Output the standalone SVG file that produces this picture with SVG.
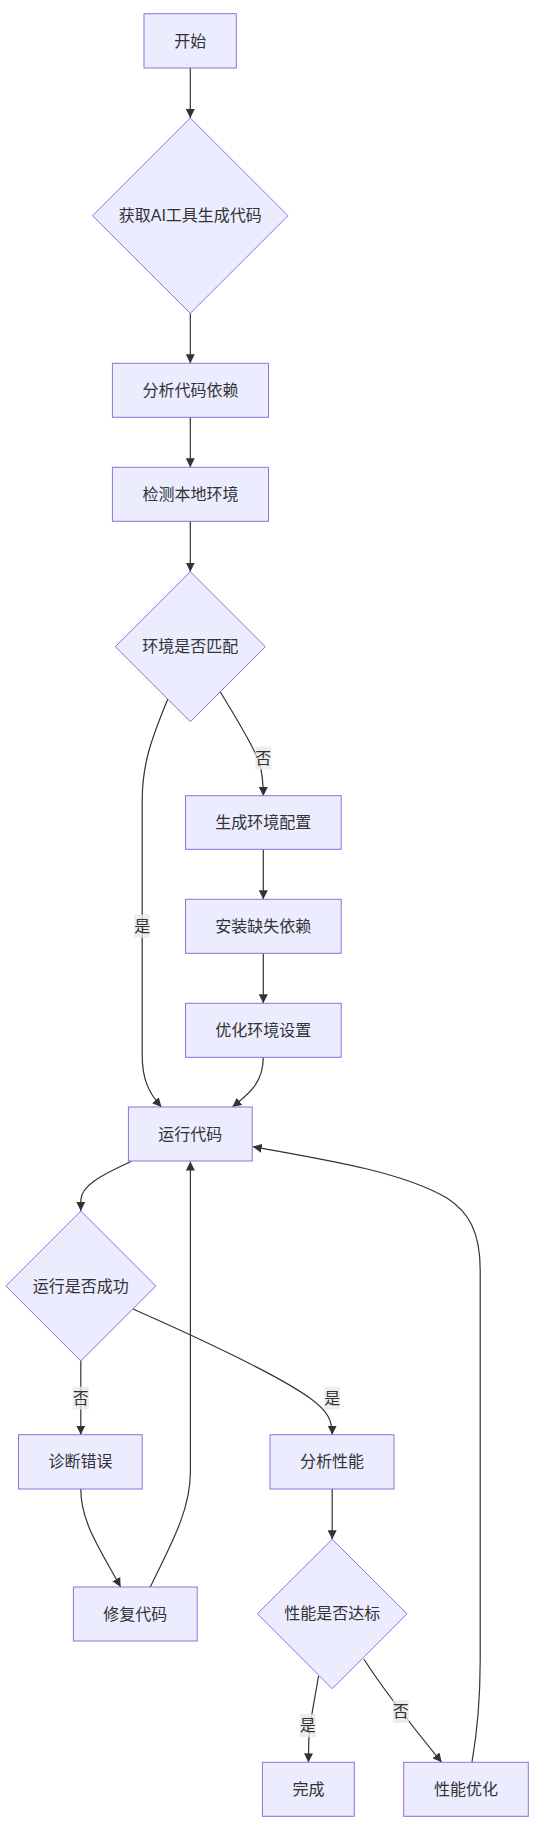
<svg xmlns="http://www.w3.org/2000/svg" width="556" height="1826" viewBox="0 0 556 1826">
<style>
.n{fill:#ECECFF;stroke:#9370DB;stroke-width:1px}
.t{font-family:"Liberation Sans","Noto Sans CJK SC",sans-serif;font-size:16px;fill:#333;text-anchor:middle;dominant-baseline:central}
.e{fill:none;stroke:#333;stroke-width:1.2px;marker-end:url(#arr)}
.lb{fill:rgba(232,232,232,0.8);stroke:none}
</style>
<defs>
<marker id="arr" viewBox="0 0 10 10" refX="10" refY="5" markerUnits="userSpaceOnUse" markerWidth="9" markerHeight="9" orient="auto">
<path d="M0,0 L10,5 L0,10 z" fill="#333"/>
</marker>
</defs>
<rect width="556" height="1826" fill="#fff"/>
<g id="edges">
<path class="e" d="M190.3,68 L190.3,118"/>
<path class="e" d="M190.3,313.3 L190.3,363.3"/>
<path class="e" d="M190.3,417.3 L190.3,467.3"/>
<path class="e" d="M190.3,521.3 L190.3,571.7"/>
<path class="e" d="M167.8,699 C150.9,740 142.2,765 142.2,800 L142.2,1055 C142.2,1080 149,1093 161.4,1107"/>
<path class="e" d="M220.3,692 C236.3,718 252.2,744 259.2,762 C262.2,772 263.3,782 263.3,796"/>
<path class="e" d="M263.3,849.3 L263.3,899.3"/>
<path class="e" d="M263.3,953.3 L263.3,1003.3"/>
<path class="e" d="M263.3,1057.3 C263.3,1082 250.2,1093 232.4,1107"/>
<path class="e" d="M131.1,1161.5 C99.3,1176 81.4,1186 80.8,1200 L80.8,1211"/>
<path class="e" d="M80.8,1360.7 L80.8,1434.7"/>
<path class="e" d="M133,1309 C198.6,1338 273,1372 309.8,1398 C327.7,1411 332.2,1420 332.2,1434.7"/>
<path class="e" d="M80.8,1489 C80.8,1522 99.3,1548 120.6,1587"/>
<path class="e" d="M150.3,1587 C168.8,1548 190.4,1512 190.4,1472 L190.4,1161.5"/>
<path class="e" d="M332.2,1489 L332.2,1539.3"/>
<path class="e" d="M318.5,1676 C314.8,1700 309.8,1720 308.8,1740 L308.4,1762.3"/>
<path class="e" d="M363.8,1659 C382.3,1688 407.1,1720 441.7,1762.3"/>
<path class="e" d="M472,1762 C477.6,1730 480.2,1700 480.2,1660 L480.2,1270 C480.2,1232 468.7,1212 446.9,1198 C402.2,1172 327.7,1160 252.8,1146.7"/>
<rect class="lb" x="134.2" y="914.5" width="16" height="23"/>
<text class="t" x="142.2" y="926">是</text>
<rect class="lb" x="255.3" y="746.5" width="16" height="23"/>
<text class="t" x="263.3" y="758">否</text>
<rect class="lb" x="72.8" y="1386.5" width="16" height="23"/>
<text class="t" x="80.8" y="1398">否</text>
<rect class="lb" x="324.2" y="1386.5" width="16" height="23"/>
<text class="t" x="332.2" y="1398">是</text>
<rect class="lb" x="299.8" y="1714" width="16" height="23"/>
<text class="t" x="307.8" y="1725.5">是</text>
<rect class="lb" x="392.8" y="1700" width="16" height="23"/>
<text class="t" x="400.8" y="1711.5">否</text>
</g>
<g id="start"><rect class="n" x="144" y="13.7" width="92.3" height="54.3"/><text class="t" x="190.2" y="41">开始</text></g>
<g id="getcode"><polygon class="n" points="190.3,118 288,215.7 190.3,313.3 92.6,215.7"/><text class="t" x="190.3" y="215.7">获取AI工具生成代码</text></g>
<g id="analyzedeps"><rect class="n" x="112.4" y="363.3" width="156.1" height="54"/><text class="t" x="190.4" y="390.3">分析代码依赖</text></g>
<g id="detectenv"><rect class="n" x="112.4" y="467.3" width="156.1" height="54"/><text class="t" x="190.4" y="494.3">检测本地环境</text></g>
<g id="envmatch"><polygon class="n" points="190.3,571.7 265.3,646.7 190.3,721.7 115.3,646.7"/><text class="t" x="190.3" y="646.7">环境是否匹配</text></g>
<g id="genenv"><rect class="n" x="185.5" y="795.7" width="155.7" height="53.6"/><text class="t" x="263.3" y="822.5">生成环境配置</text></g>
<g id="installdeps"><rect class="n" x="185.5" y="899.3" width="155.7" height="54"/><text class="t" x="263.3" y="926.3">安装缺失依赖</text></g>
<g id="optenv"><rect class="n" x="185.5" y="1003.3" width="155.7" height="54"/><text class="t" x="263.3" y="1030.3">优化环境设置</text></g>
<g id="run"><rect class="n" x="128.4" y="1107" width="123.8" height="54"/><text class="t" x="190.3" y="1134">运行代码</text></g>
<g id="runok"><polygon class="n" points="80.8,1211 155.8,1286 80.8,1361 5.8,1286"/><text class="t" x="80.8" y="1286">运行是否成功</text></g>
<g id="diagnose"><rect class="n" x="18.5" y="1434.7" width="123.7" height="54.3"/><text class="t" x="80.4" y="1461.8">诊断错误</text></g>
<g id="perf"><rect class="n" x="270" y="1434.7" width="124" height="54.3"/><text class="t" x="332" y="1461.8">分析性能</text></g>
<g id="fix"><rect class="n" x="73.4" y="1587" width="123.8" height="54"/><text class="t" x="135.3" y="1614">修复代码</text></g>
<g id="perfok"><polygon class="n" points="332.2,1539.3 407,1613.8 332.2,1688.7 257.4,1613.8"/><text class="t" x="332.2" y="1613.8">性能是否达标</text></g>
<g id="done"><rect class="n" x="262.4" y="1762.3" width="91.9" height="54"/><text class="t" x="308.4" y="1789.3">完成</text></g>
<g id="perfopt"><rect class="n" x="403.7" y="1762.3" width="124.6" height="54"/><text class="t" x="466" y="1789.3">性能优化</text></g>
</svg>
